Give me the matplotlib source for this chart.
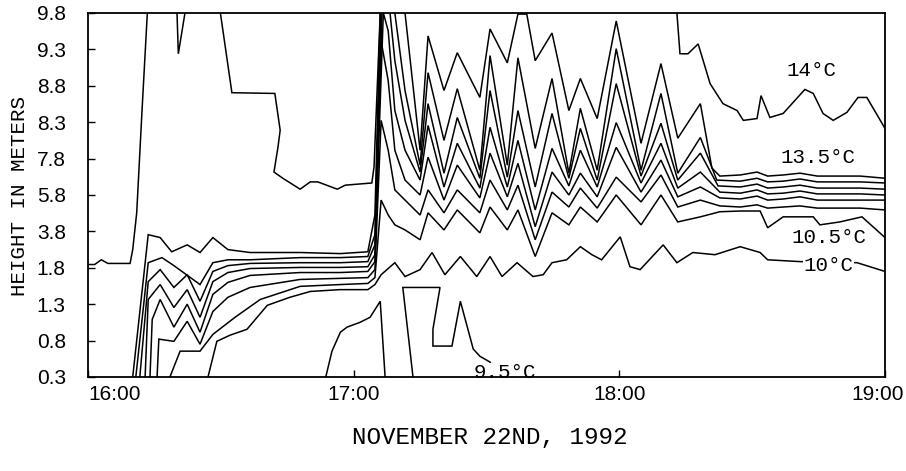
import numpy as np
import matplotlib
matplotlib.use('Agg')
import matplotlib.pyplot as plt
from matplotlib import font_manager
from matplotlib.transforms import ScaledTranslation

# sensor heights shown on the y axis (one row per sensor level)
sensor_heights = ['0.3', '0.8', '1.3', '1.8', '3.8', '5.8', '7.8', '8.3', '8.8', '9.3', '9.8']
time_ticks = [0, 60, 120, 180]
time_labels = ['16:00', '17:00', '18:00', '19:00']

# isotherm paths: minutes after 16:00, height in sensor levels (10.5 = above top sensor)
t_14 = [0, 1.5, 3.0, 4.5, 9.5, 10.1, 11.0, 12.2, 13.4, np.nan,
        20.1, 20.4, 21.9, np.nan,
        29.9, 32.5, 42.2, 43.4, 42.9, 42.0, 44.0, 47.9, 50.2, 51.9, 56.3, 58.1, 64.1, 64.6, 66.0, np.nan,
        133.0, 133.7, 135.5, 137.8, 140.5, 143.4, 146.6, 148.0, 151.1, 152.0, 154.0, 157.0, 161.9, 163.8,
        166.0, 168.3, 171.4, 173.9, 175.9, 180.0]
h_14 = [3.09, 3.09, 3.22, 3.12, 3.12, 3.50, 4.51, 7.32, 10.0, np.nan,
        10.0, 8.88, 10.0, np.nan,
        10.0, 7.81, 7.79, 6.78, 6.31, 5.63, 5.46, 5.16, 5.36, 5.36, 5.16, 5.27, 5.33, 5.77, 10.0, np.nan,
        10.0, 8.88, 8.88, 9.15, 8.06, 7.51, 7.32, 7.05, 7.10, 7.73, 7.13, 7.24, 7.90, 7.79,
        7.24, 7.05, 7.27, 7.68, 7.68, 6.83]

t_13_5 = [10.1, 13.6, 16.3, 18.9, 22.4, 25.3, 28.2, 31.6, 36.6, 47.9, 57.0, 63.2, 64.8, 66.0, 67.8, 70.0,
          71.6, 75.0, 76.8, 80.4, 83.4, 88.5, 90.8, 94.7, 97.1, 99.1, 101.0, 104.8, 108.6, 111.2, 115.0,
          119.3, 124.9, 129.4, 133.2, 138.3, 140.9, 142.7, 147.3, 151.1, 153.5, 157.0, 160.8, 164.7,
          169.8, 174.4, 180.0]
h_13_5 = [0, 3.91, 3.83, 3.44, 3.63, 3.42, 3.83, 3.50, 3.42, 3.42, 3.39, 3.44, 4.45, 10.0, 10.5, 10.5,
          10.0, 6.23, 9.37, 7.87, 8.91, 7.68, 9.56, 8.63, 9.97, 9.97, 8.69, 9.45, 7.32, 8.20, 7.10,
          9.78, 6.42, 8.61, 6.56, 7.51, 5.74, 5.52, 5.55, 5.63, 5.52, 5.55, 5.60, 5.52,
          5.52, 5.52, 5.46]

t_13 = [10.8, 13.6, 16.7, 19.4, 25.3, 28.2, 31.6, 36.6, 47.9, 57.0, 63.2, 64.8, 66.2, 67.8, 69.3, 71.6,
        75.0, 76.8, 80.4, 83.4, 88.5, 90.8, 94.7, 97.1, 101.0, 104.8, 108.6, 111.2, 115.0, 119.3, 124.9,
        129.4, 133.2, 138.3, 142.0, 147.3, 151.1, 153.5, 157.0, 160.8, 164.7, 169.8, 174.4, 180.0]
h_13 = [0, 3.14, 3.28, 3.06, 2.54, 3.14, 3.22, 3.22, 3.28, 3.28, 3.31, 3.91, 10.0, 10.5, 10.0, 7.87,
        5.82, 8.36, 6.50, 7.92, 5.68, 8.83, 5.82, 8.77, 6.28, 8.20, 5.60, 7.38, 5.68, 9.02, 5.68,
        7.79, 5.60, 6.58, 5.41, 5.38, 5.46, 5.36, 5.38, 5.44, 5.36, 5.36, 5.36, 5.33]

t_12_5 = [11.7, 13.6, 16.3, 19.4, 22.4, 25.3, 28.2, 31.6, 36.6, 47.9, 57.0, 63.2, 64.8, 66.4, 67.8, 69.3,
          71.6, 75.0, 76.8, 80.4, 83.4, 88.5, 90.8, 94.7, 97.1, 101.0, 104.8, 108.6, 111.2, 115.0, 119.3,
          124.9, 129.4, 133.2, 138.3, 142.3, 147.3, 151.1, 153.5, 157.0, 160.8, 164.7, 169.8, 174.4, 180.0]
h_12_5 = [0, 2.62, 2.95, 2.46, 2.81, 2.08, 2.90, 3.06, 3.12, 3.14, 3.14, 3.17, 3.63, 10.0, 10.5, 8.69,
          7.05, 5.63, 7.51, 5.60, 7.13, 5.46, 7.87, 5.49, 7.32, 5.22, 7.24, 5.46, 6.83, 5.41, 8.06,
          5.52, 6.97, 5.41, 6.15, 5.25, 5.22, 5.30, 5.19, 5.22, 5.27, 5.19, 5.19, 5.19, 5.16]

t_12 = [12.9, 13.6, 16.3, 19.4, 22.4, 25.3, 28.2, 31.6, 36.6, 47.9, 57.0, 63.2, 64.8, 66.7, 67.8, 69.3,
        71.6, 75.0, 76.8, 80.4, 83.4, 88.5, 90.8, 94.7, 97.1, 101.0, 104.8, 108.6, 111.2, 115.0, 119.3,
        124.9, 129.4, 133.2, 138.3, 142.7, 147.3, 151.1, 153.5, 157.0, 160.8, 164.7, 169.8, 174.4, 180.0]
h_12 = [0, 2.13, 2.54, 1.91, 2.40, 1.64, 2.62, 2.87, 2.98, 3.01, 3.01, 3.03, 3.36, 10.0, 9.51, 7.32,
        6.23, 5.41, 6.91, 5.22, 6.42, 5.19, 6.86, 5.22, 6.50, 4.59, 6.28, 5.25, 6.23, 5.22, 6.99,
        5.33, 6.42, 5.19, 5.63, 5.08, 5.05, 5.14, 5.03, 5.05, 5.11, 5.03, 5.03, 5.03, 5.00]

t_11_5 = [14.0, 14.5, 16.3, 19.4, 22.4, 25.3, 28.2, 31.6, 36.6, 47.9, 57.0, 63.2, 64.8, 66.2, 67.8, 69.3,
          71.6, 75.0, 76.8, 80.4, 83.4, 88.5, 90.8, 94.7, 97.1, 101.0, 104.8, 108.6, 111.2, 115.0, 119.3,
          124.9, 129.4, 133.2, 138.3, 142.7, 147.3, 151.1, 153.5, 157.0, 160.8, 164.7, 169.8, 174.4, 180.0]
h_11_5 = [0, 1.58, 2.13, 1.37, 2.00, 1.23, 2.27, 2.60, 2.79, 2.87, 2.87, 2.90, 3.17, 9.23, 8.14, 6.23,
          5.41, 5.00, 6.04, 4.86, 5.82, 4.92, 6.15, 4.95, 5.87, 4.13, 5.63, 5.00, 5.60, 4.95, 6.31,
          5.08, 5.96, 4.95, 5.22, 4.92, 4.89, 4.97, 4.86, 4.89, 4.95, 4.86, 4.86, 4.86, 4.86]

t_11 = [15.6, 16.0, 19.4, 22.4, 25.3, 28.2, 31.6, 36.6, 47.9, 57.0, 63.2, 64.8, 66.2, 67.8, 69.3, 71.6,
        75.0, 76.8, 80.4, 83.4, 88.5, 90.8, 94.7, 97.1, 101.0, 104.8, 108.6, 111.2, 115.0, 119.3, 124.9,
        129.4, 133.2, 138.3, 142.7, 147.3, 151.1, 153.5, 157.0, 160.8, 164.7, 169.8, 174.4, 180.0]
h_11 = [0, 1.04, 0.98, 1.53, 0.90, 1.80, 2.19, 2.46, 2.68, 2.71, 2.73, 2.95, 7.05, 6.23, 5.14, 4.86,
        4.45, 5.14, 4.51, 5.14, 4.51, 5.41, 4.59, 5.27, 3.77, 5.08, 4.67, 5.19, 4.64, 5.49, 4.81,
        5.55, 4.67, 4.86, 4.70, 4.67, 4.73, 4.64, 4.67, 4.70, 4.64, 4.64, 4.64, 4.59]

t_10_5 = [18.5, 20.8, 25.3, 28.2, 33.2, 38.9, 47.9, 57.0, 63.2, 64.8, 66.2, 67.8, 69.3, 71.6, 75.0, 76.8,
          80.4, 83.4, 88.5, 90.8, 94.7, 97.1, 101.0, 104.8, 108.6, 111.2, 115.0, 119.3, 124.9, 129.4,
          133.2, 138.3, 142.7, 147.3, 151.8, 153.5, 157.0, 163.8, 165.3, 169.8, 174.8, 180.0]
h_10_5 = [0, 0.71, 0.71, 1.17, 1.64, 2.13, 2.49, 2.54, 2.57, 2.73, 4.86, 4.45, 4.18, 4.04, 3.77, 4.51,
          4.04, 4.59, 3.96, 4.67, 4.04, 4.59, 3.31, 4.51, 4.18, 4.67, 4.26, 5.00, 4.18, 5.00,
          4.26, 4.40, 4.54, 4.56, 4.56, 4.10, 4.40, 4.40, 4.18, 4.26, 4.40, 3.83]

t_10 = [27.1, 29.1, 32.1, 35.9, 40.5, 45.6, 50.2, 56.9, 63.2, 64.8, 66.2, 69.3, 71.6, 75.0, 77.7, 80.6,
        84.1, 87.8, 90.8, 93.5, 96.9, 100.5, 102.8, 104.8, 108.1, 111.2, 113.8, 116.0, 120.2, 122.4,
        124.7, 129.9, 133.0, 136.6, 141.6, 147.3, 151.8, 153.5, 160.8, 173.7, 180.0]
h_10 = [0, 0.98, 1.15, 1.31, 1.97, 2.19, 2.35, 2.40, 2.40, 2.54, 2.81, 3.14, 2.76, 2.95, 3.42, 2.81,
        3.31, 2.76, 3.31, 2.76, 3.14, 2.76, 2.81, 3.14, 3.22, 3.58, 3.36, 3.22, 3.85, 3.03,
        2.95, 3.63, 3.14, 3.42, 3.36, 3.58, 3.42, 3.22, 3.17, 3.14, 2.90]

t_9_5 = [53.7, 55.1, 57.0, 58.5, 61.4, 63.7, 66.0, 67.1, np.nan,
         73.4, 71.1, 79.5, 77.9, 77.9, 82.2, 84.1, 87.0, 88.5, 90.8, 92.4]
h_9_5 = [0, 0.71, 1.23, 1.37, 1.50, 1.64, 2.08, 0, np.nan,
         0, 2.46, 2.46, 1.31, 0.85, 0.85, 2.08, 0.77, 0.57, 0.41, 0]

isotherms = [(t_14, h_14), (t_13_5, h_13_5), (t_13, h_13), (t_12_5, h_12_5), (t_12, h_12),
             (t_11_5, h_11_5), (t_11, h_11), (t_10_5, h_10_5), (t_10, h_10), (t_9_5, h_9_5)]

# labelled isotherms: text, minutes, height, drawn inline over the line
iso_labels = [('14°C', 163.5, 8.43, False), ('13.5°C', 164.9, 6.02, False),
              ('10.5°C', 167.3, 3.82, True), ('10°C', 167.3, 3.05, True), ('9.5°C', 94.2, 0.12, True)]

names = {f.name for f in font_manager.fontManager.ttflist}
tick_font = 'Liberation Sans Narrow' if 'Liberation Sans Narrow' in names else 'Liberation Sans'
mono = 'Liberation Mono'

fig = plt.figure(figsize=(9.06, 4.71), dpi=100)
ax = fig.add_axes([88 / 906, 94 / 471, 797 / 906, 364 / 471])

for t, h in isotherms:
    ax.plot(t, h, color='black', lw=1.1, solid_joinstyle='miter')

for text, t, h, inline in iso_labels:
    box = dict(facecolor='white', edgecolor='none', pad=0.5) if inline else None
    ax.text(t, h, text, family=mono, fontsize=15, ha='center', va='center', zorder=2.2, bbox=box)

ax.set_xlim(0, 180)
ax.set_ylim(0, 10)
ax.set_yticks(range(len(sensor_heights)))
ax.set_yticklabels(sensor_heights, family=tick_font, fontsize=15)
ax.set_xticks(time_ticks)
ax.set_xticklabels([])
ax.tick_params(direction='in', length=5, width=1)
ax.tick_params(axis='y', pad=16)

# time labels: end labels pushed inside the figure, middle ones centred on their ticks
xtrans = ax.get_xaxis_transform()
shifts = [0.0, 0.0, 0.0, 0.19]
aligns = ['left', 'center', 'center', 'right']
for tick, lab, dx, ha in zip(time_ticks, time_labels, shifts, aligns):
    ax.text(tick, -0.022, lab, family=tick_font, fontsize=15, ha=ha, va='top',
            transform=xtrans + ScaledTranslation(dx, 0, fig.dpi_scale_trans))

for s in ax.spines.values():
    s.set_linewidth(1.3)
    s.set_zorder(3)

fig.text(20 / 906, 1 - 196 / 471, 'HEIGHT IN METERS', rotation=90, family=mono, fontsize=15,
         ha='center', va='center')
fig.text(490 / 906, 1 - 437 / 471, 'NOVEMBER 22ND, 1992', family=mono, fontsize=17.5,
         ha='center', va='center')

fig.savefig('out.png', dpi=100)
